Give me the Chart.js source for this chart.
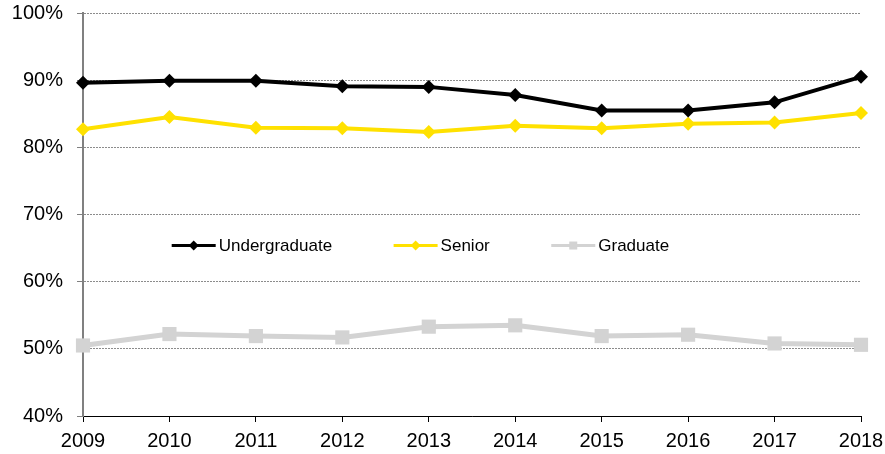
<!DOCTYPE html>
<html>
<head>
<meta charset="utf-8">
<script src="https://cdn.jsdelivr.net/npm/chart.js@4.4.1/dist/chart.umd.min.js"></script>
<style>
  html, body { margin: 0; padding: 0; background: #fff; }
  #wrap { width: 885px; height: 454px; }
</style>
</head>
<body>
<div id="wrap"><canvas id="rateChart" width="885" height="454"></canvas></div>
<script>
const years = ["2009", "2010", "2011", "2012", "2013", "2014", "2015", "2016", "2017", "2018"];
const undergraduate = [89.6, 89.9, 89.9, 89.1, 89.0, 87.8, 85.5, 85.5, 86.7, 90.5];
const senior = [82.7, 84.5, 82.9, 82.85, 82.3, 83.2, 82.85, 83.5, 83.7, 85.1];
const graduate = [50.5, 52.2, 51.9, 51.7, 53.3, 53.5, 51.9, 52.1, 50.8, 50.6];
const yTicks = [40, 50, 60, 70, 80, 90, 100];

const FONT = "'Liberation Sans', Arial, sans-serif";

// legend drawn inside the plot, like the original
const innerLegend = {
  id: "innerLegend",
  afterDatasetsDraw(chart) {
    const { ctx, chartArea } = chart;
    const y = chartArea.top + (chartArea.bottom - chartArea.top) * 0.577;
    let x = chartArea.left + (chartArea.right - chartArea.left) * 0.114;
    ctx.save();
    ctx.font = "17px " + FONT;
    ctx.textBaseline = "middle";
    chart.data.datasets.forEach(ds => {
      ctx.strokeStyle = ds.borderColor;
      ctx.lineWidth = 3;
      ctx.beginPath();
      ctx.moveTo(x, y);
      ctx.lineTo(x + 44, y);
      ctx.stroke();
      ctx.fillStyle = ds.pointBackgroundColor;
      const cx = x + 22;
      if (ds.pointStyle === "rect") {
        ctx.fillRect(cx - 4, y - 4, 8, 8);
      } else {
        ctx.beginPath();
        ctx.moveTo(cx, y - 5);
        ctx.lineTo(cx + 5, y);
        ctx.lineTo(cx, y + 5);
        ctx.lineTo(cx - 5, y);
        ctx.closePath();
        ctx.fill();
      }
      ctx.fillStyle = "#000";
      ctx.fillText(ds.label, x + 47, y + 1);
      x += 47 + ctx.measureText(ds.label).width + 61.5;
    });
    ctx.restore();
  }
};

document.addEventListener("DOMContentLoaded", function () {
  const ctx = document.getElementById("rateChart").getContext("2d");
  new Chart(ctx, {
    type: "line",
    data: {
      labels: years,
      datasets: [{
        label: "Undergraduate",
        data: undergraduate,
        borderColor: "#000000",
        backgroundColor: "#000000",
        pointBackgroundColor: "#000000",
        borderWidth: 4,
        pointStyle: "rectRot",
        pointRadius: 7,
        pointBorderWidth: 0,
        tension: 0
      }, {
        label: "Senior",
        data: senior,
        borderColor: "#FFE100",
        backgroundColor: "#FFE100",
        pointBackgroundColor: "#FFE100",
        borderWidth: 4,
        pointStyle: "rectRot",
        pointRadius: 7,
        pointBorderWidth: 0,
        tension: 0
      }, {
        label: "Graduate",
        data: graduate,
        borderColor: "#D3D3D3",
        backgroundColor: "#D3D3D3",
        pointBackgroundColor: "#D3D3D3",
        borderWidth: 5,
        pointStyle: "rect",
        pointRadius: 10,
        pointBorderWidth: 0,
        tension: 0
      }]
    },
    options: {
      responsive: false,
      animation: false,
      layout: { padding: { top: 13, right: 24, left: 0, bottom: 0 } },
      plugins: {
        legend: { display: false },
        tooltip: { enabled: false }
      },
      scales: {
        x: {
          offset: false,
          grid: { drawOnChartArea: false, drawTicks: true, tickLength: 6, tickColor: "#000", tickWidth: 1 },
          border: { color: "#000", width: 1 },
          ticks: { color: "#000", font: { family: FONT, size: 20 }, padding: 7, maxRotation: 0, autoSkip: false },
          afterFit(scale) {
            scale.height = 38;
            scale.paddingLeft = 0;
            scale.paddingRight = 0;
          }
        },
        y: {
          min: 40,
          max: 100,
          afterBuildTicks(scale) { scale.ticks = yTicks.map(v => ({ value: v })); },
          grid: { color: "#8c8c8c", lineWidth: 1, tickLength: 6, tickColor: "#808080" },
          border: { color: "#808080", width: 2, dash: [2, 1] },
          ticks: {
            color: "#000",
            font: { family: FONT, size: 20 },
            padding: 14,
            callback: v => v + "%"
          },
          afterFit(scale) {
            scale.width = 83;
            scale.paddingTop = 0;
            scale.paddingBottom = 0;
          }
        }
      }
    },
    plugins: [innerLegend]
  });
});
</script>
</body>
</html>
